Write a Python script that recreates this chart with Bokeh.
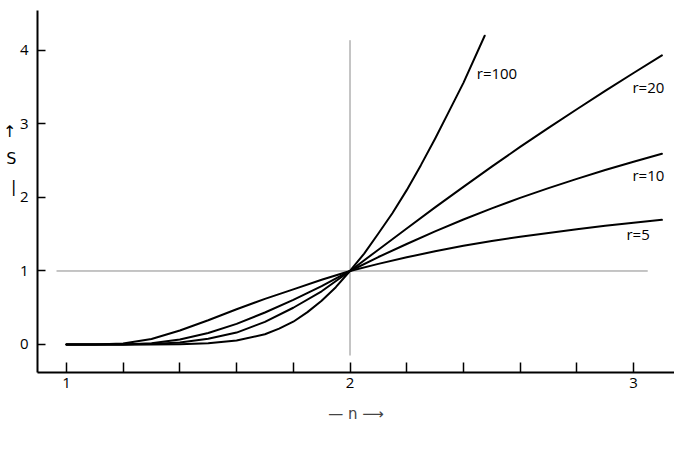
from bokeh.plotting import figure
from bokeh.models import FixedTicker, Label, Range1d, LinearAxis
from bokeh.embed import file_html
from bokeh.resources import INLINE

# ---- data ----
n_grid = [1.0, 1.1, 1.2, 1.3, 1.4, 1.5, 1.6, 1.7, 1.8, 1.9, 2.0,
          2.1, 2.2, 2.3, 2.4, 2.5, 2.6, 2.7, 2.8, 2.9, 3.0, 3.1]
s_r5 = [0, 0, 0.013, 0.075, 0.19, 0.33, 0.48, 0.62, 0.75, 0.88, 1.0,
        1.097, 1.186, 1.268, 1.342, 1.408, 1.466, 1.518, 1.568, 1.614, 1.656, 1.696]
s_r10 = [0, 0, 0.001, 0.017, 0.067, 0.156, 0.28, 0.435, 0.607, 0.793, 1.0,
         1.19, 1.367, 1.54, 1.70, 1.852, 1.995, 2.128, 2.253, 2.374, 2.487, 2.594]
s_r20 = [0, 0, 0, 0.006, 0.027, 0.077, 0.162, 0.308, 0.50, 0.724, 1.0,
         1.29, 1.578, 1.865, 2.145, 2.42, 2.688, 2.948, 3.20, 3.45, 3.694, 3.933]
n_r100 = [1.0, 1.1, 1.2, 1.3, 1.4, 1.5, 1.6, 1.7, 1.75, 1.8, 1.85, 1.9, 1.95, 2.0,
          2.05, 2.1, 2.15, 2.2, 2.25, 2.3, 2.35, 2.4, 2.475]
s_r100 = [0, 0, 0, 0, 0.005, 0.018, 0.053, 0.139, 0.215, 0.31, 0.44, 0.595, 0.78, 1.0,
          1.237, 1.51, 1.789, 2.10, 2.44, 2.80, 3.178, 3.56, 4.20]

curve_labels = ["r=5", "r=10", "r=20", "r=100"]
label_n = [2.975, 2.996, 2.996, 2.447]
label_s = [1.50, 2.31, 3.50, 3.69]

ref_h_n = [0.965, 3.05]
ref_h_s = [1.0, 1.0]
ref_v_n = [2.0, 2.0]
ref_v_s = [-0.15, 4.14]

x_major = [1, 2, 3]
x_minor = [1.2, 1.4, 1.6, 1.8, 2.2, 2.4, 2.6, 2.8]
y_major = [0, 1, 2, 3, 4]

ylab_pos = [2.90, 2.53, 2.15]
ylab_txt = ["↑", "S", "|"]

FONT = "Open Sans"
X0, X1 = 0.8979, 3.1444
Y0, Y1 = -0.381, 4.544

p = figure(width=674, height=451, output_backend="svg", toolbar_location=None,
           x_range=Range1d(X0, X1), y_range=Range1d(Y0, Y1))
p.min_border_left = 36
p.min_border_right = 0
p.min_border_top = 10
p.min_border_bottom = 79
p.outline_line_color = None
p.grid.visible = False
p.background_fill_color = "white"
p.border_fill_color = "white"

# reference lines
p.line(ref_h_n, ref_h_s, line_color="#8a8a8a", line_width=1)
p.line(ref_v_n, ref_v_s, line_color="#8a8a8a", line_width=1)

# curves
for xs, ys in [(n_grid, s_r5), (n_grid, s_r10), (n_grid, s_r20), (n_r100, s_r100)]:
    p.line(xs, ys, line_color="black", line_width=2, line_join="round", line_cap="round")

for t, x, y in zip(curve_labels, label_n, label_s):
    p.add_layout(Label(x=x, y=y, text=t, text_font=FONT, text_font_size="15px",
                       text_align="left", text_baseline="middle", text_color="black"))

# x axis
xa = p.xaxis[0]
xa.ticker = FixedTicker(ticks=x_major, minor_ticks=x_minor)
xa.axis_line_width = 2
xa.axis_line_color = "black"
xa.major_tick_in = 10
xa.major_tick_out = 0
xa.minor_tick_in = 10
xa.minor_tick_out = 0
xa.major_tick_line_width = 1.5
xa.minor_tick_line_width = 1.5
xa.major_tick_line_color = "black"
xa.minor_tick_line_color = "black"
xa.major_label_text_font = FONT
xa.major_label_text_font_size = "15px"
xa.major_label_text_color = "black"
xa.major_label_standoff = 5
xa.axis_label = "— n ⟶"
xa.axis_label_text_font = "DejaVu Sans"
xa.axis_label_text_font_style = "normal"
xa.axis_label_text_font_size = "15px"
xa.axis_label_standoff = 14

# y axis (ticks point inward)
ya = p.yaxis[0]
ya.ticker = FixedTicker(ticks=y_major, minor_ticks=[])
ya.axis_line_width = 2
ya.axis_line_color = "black"
ya.major_tick_in = 8
ya.major_tick_out = 0
ya.major_tick_line_width = 1.5
ya.major_tick_line_color = "black"
ya.minor_tick_line_color = None
ya.major_label_text_font = FONT
ya.major_label_text_font_size = "15px"
ya.major_label_text_color = "black"
ya.major_label_standoff = 9

# y label (upright arrow, S, bar) as a second, tick-less axis
ylab_axis = LinearAxis(ticker=FixedTicker(ticks=ylab_pos, minor_ticks=[]),
                       major_label_overrides={v: t for v, t in zip(ylab_pos, ylab_txt)})
ylab_axis.axis_line_color = None
ylab_axis.major_tick_line_color = None
ylab_axis.minor_tick_line_color = None
ylab_axis.major_tick_in = 0
ylab_axis.major_tick_out = 0
ylab_axis.major_label_standoff = 0
ylab_axis.major_label_text_font = "DejaVu Sans"
ylab_axis.major_label_text_font_size = "16px"
ylab_axis.major_label_text_color = "black"
p.add_layout(ylab_axis, "left")

open("out.html", "w").write(file_html(p, INLINE))
